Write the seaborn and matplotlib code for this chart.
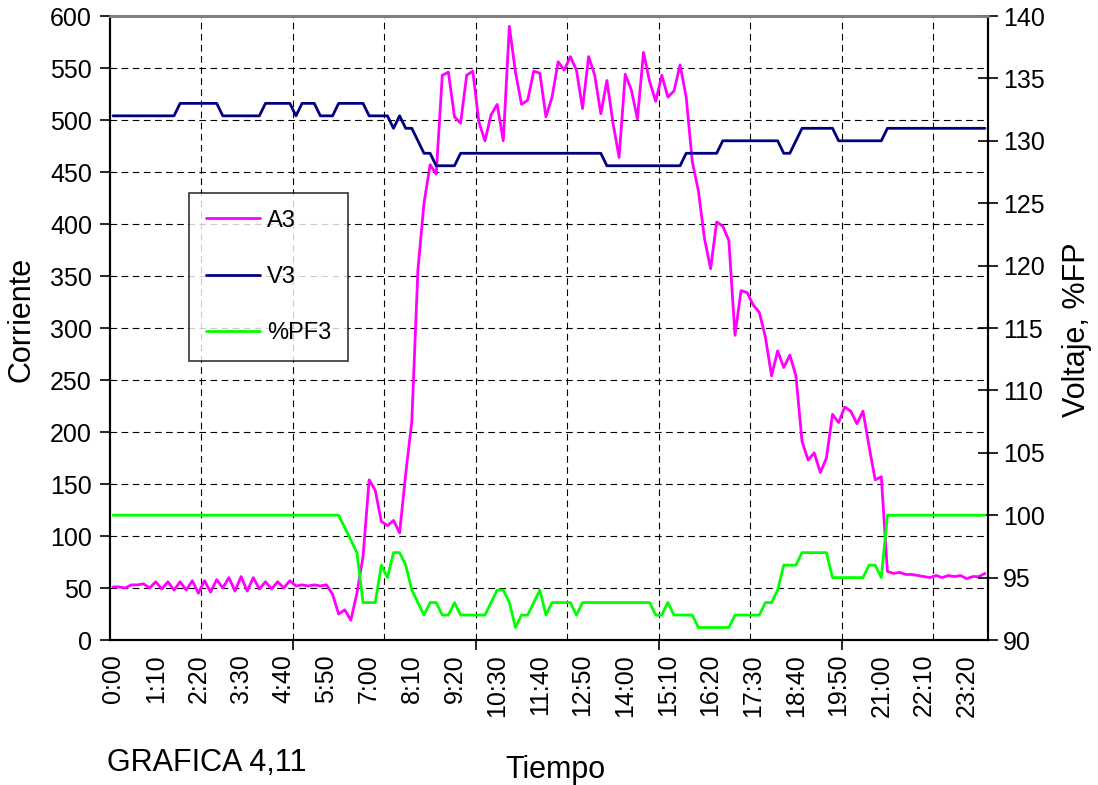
import numpy as np
import pandas as pd
import matplotlib
matplotlib.use("Agg")
import matplotlib.pyplot as plt
import seaborn as sns

# 10-minute readings, 0:00 .. 23:50
a3 = [51, 51, 50, 53, 53, 54, 50, 56, 49, 56, 48, 56,
      48, 57, 45, 57, 46, 58, 50, 60, 47, 61, 47, 60,
      49, 56, 49, 56, 50, 57, 52, 53, 52, 53, 52, 53,
      44, 25, 29, 19, 45, 80, 154, 144, 114, 110, 115, 103,
      160, 210, 356, 420, 457, 448, 543, 546, 503, 497, 543, 547,
      498, 480, 505, 515, 480, 590, 546, 515, 519, 547, 545, 503,
      522, 556, 548, 561, 548, 511, 561, 543, 506, 538, 497, 464,
      544, 529, 501, 565, 537, 518, 543, 522, 528, 553, 522, 460,
      432, 386, 357, 402, 398, 384, 293, 336, 334, 322, 315, 291,
      254, 278, 262, 274, 254, 191, 173, 180, 161, 175, 217, 209,
      224, 220, 208, 220, 186, 154, 157, 66, 64, 65, 63, 63,
      62, 61, 60, 62, 60, 62, 61, 62, 59, 61, 61, 64]

v3 = [132, 132, 132, 132, 132, 132, 132, 132, 132, 132, 132, 133,
      133, 133, 133, 133, 133, 133, 132, 132, 132, 132, 132, 132,
      132, 133, 133, 133, 133, 133, 132, 133, 133, 133, 132, 132,
      132, 133, 133, 133, 133, 133, 132, 132, 132, 132, 131, 132,
      131, 131, 130, 129, 129, 128, 128, 128, 128, 129, 129, 129,
      129, 129, 129, 129, 129, 129, 129, 129, 129, 129, 129, 129,
      129, 129, 129, 129, 129, 129, 129, 129, 129, 128, 128, 128,
      128, 128, 128, 128, 128, 128, 128, 128, 128, 128, 129, 129,
      129, 129, 129, 129, 130, 130, 130, 130, 130, 130, 130, 130,
      130, 130, 129, 129, 130, 131, 131, 131, 131, 131, 131, 130,
      130, 130, 130, 130, 130, 130, 130, 131, 131, 131, 131, 131,
      131, 131, 131, 131, 131, 131, 131, 131, 131, 131, 131, 131]

pf3 = [100, 100, 100, 100, 100, 100, 100, 100, 100, 100, 100, 100,
       100, 100, 100, 100, 100, 100, 100, 100, 100, 100, 100, 100,
       100, 100, 100, 100, 100, 100, 100, 100, 100, 100, 100, 100,
       100, 100, 99, 98, 97, 93, 93, 93, 96, 95, 97, 97,
       96, 94, 93, 92, 93, 93, 92, 92, 93, 92, 92, 92,
       92, 92, 93, 94, 94, 93, 91, 92, 92, 93, 94, 92,
       93, 93, 93, 93, 92, 93, 93, 93, 93, 93, 93, 93,
       93, 93, 93, 93, 93, 92, 92, 93, 92, 92, 92, 92,
       91, 91, 91, 91, 91, 91, 92, 92, 92, 92, 92, 93,
       93, 94, 96, 96, 96, 97, 97, 97, 97, 97, 95, 95,
       95, 95, 95, 95, 96, 96, 95, 100, 100, 100, 100, 100,
       100, 100, 100, 100, 100, 100, 100, 100, 100, 100, 100, 100]

tick_labels = ["0:00", "1:10", "2:20", "3:30", "4:40", "5:50", "7:00",
               "8:10", "9:20", "10:30", "11:40", "12:50", "14:00", "15:10",
               "16:20", "17:30", "18:40", "19:50", "21:00", "22:10", "23:20"]

df = pd.DataFrame({"n": np.arange(len(a3)), "A3": a3, "V3": v3, "%PF3": pf3})

sns.set_style("white")
plt.rcParams['font.family'] = ['Liberation Sans', 'DejaVu Sans']
plt.rcParams.update({'text.color': 'black', 'axes.labelcolor': 'black',
                     'xtick.color': 'black', 'ytick.color': 'black'})

fig = plt.figure(figsize=(10.98, 7.85), dpi=100)
ax = fig.add_axes([110/1098, 1 - 640/785, 878/1098, 624/785])
ax2 = ax.twinx()

sns.lineplot(data=df, x="n", y="A3", ax=ax, color="#FF00FF", lw=2, label="A3", legend=False)
sns.lineplot(data=df, x="n", y="V3", ax=ax2, color="#000080", lw=2, label="V3", legend=False)
sns.lineplot(data=df, x="n", y="%PF3", ax=ax2, color="#00FF00", lw=2, label="%PF3", legend=False)

n = len(a3)
ax.set_xlim(-0.5, n - 0.5)
ax.set_ylim(0, 600)
ax2.set_ylim(90, 140)
ax.set_yticks(range(0, 601, 50))
ax2.set_yticks(range(90, 141, 5))

# gridlines every 15 readings, labels every 7, tick marks every 30
ax.set_xticks(np.arange(14.5, n, 15))
ax.set_xticks(np.arange(0, n, 7)[:len(tick_labels)], labels=tick_labels, minor=True)
ax.tick_params(axis='x', which='major', length=0, labelbottom=False)
ax.tick_params(axis='x', which='minor', length=0, pad=10, labelsize=18, labelrotation=90)
sec = ax.secondary_xaxis('bottom')
sec.set_xticks(np.arange(29.5, n - 15, 30))
sec.tick_params(length=7, width=1.2, labelbottom=False)
sec.spines['bottom'].set_visible(False)

ax.grid(True, which='major', color='black', linestyle=(0, (6, 4)), lw=0.8)
ax.tick_params(axis='y', direction='out', length=7, width=1.2, labelsize=18, pad=6)
ax2.tick_params(axis='y', direction='inout', length=14, width=1.2, labelsize=18, pad=4)
ax2.grid(False)

for a in (ax, ax2):
    for s in ['left', 'bottom', 'right']:
        a.spines[s].set_color('black')
        a.spines[s].set_linewidth(1.5)
    a.spines['top'].set_color('#808080')
    a.spines['top'].set_linewidth(2)
    a.set_xlabel("")
    a.set_ylabel("")

handles = ax.get_lines() + ax2.get_lines()
leg = ax2.legend(handles=handles, labels=["A3", "V3", "%PF3"],
                 loc='upper left', bbox_to_anchor=(79/878, 447/624),
                 borderaxespad=0, fontsize=17, frameon=True, fancybox=False,
                 edgecolor='black', handlelength=2.3, handletextpad=0.3,
                 labelspacing=1.45, borderpad=0.7)
leg.get_frame().set_linewidth(1.2)

fig.text(22/1098, 1 - 319/785, "Corriente", rotation=90, ha='center', va='center', fontsize=22)
fig.text(1077/1098, 1 - 330/785, "Voltaje, %FP", rotation=90, ha='center', va='center', fontsize=22)
fig.text(555/1098, 1 - 778/785, "Tiempo", ha='center', va='baseline', fontsize=22)
fig.text(107/1098, 1 - 771/785, "GRAFICA 4,11", ha='left', va='baseline', fontsize=22)

fig.savefig("out.png", dpi=100)
